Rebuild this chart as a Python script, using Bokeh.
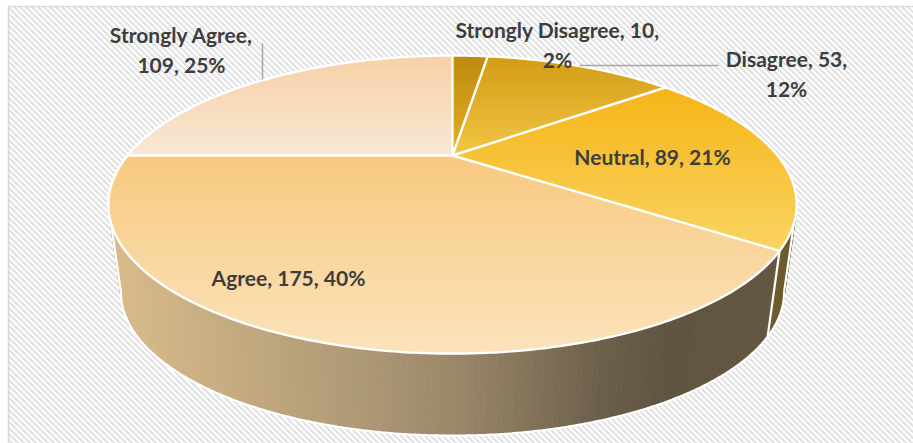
import numpy as np
from bokeh.plotting import figure
from bokeh.models import Range1d
from bokeh.embed import file_html
from bokeh.resources import INLINE
from bokeh.core.properties import value

# ---------------- data ----------------
categories = ["Strongly Disagree", "Disagree", "Neutral", "Agree", "Strongly Agree"]
counts = [10, 53, 89, 175, 109]
pct_labels = ["2%", "12%", "21%", "40%", "25%"]

# ---------------- layout / style ----------------
W, H = 913, 443
PX, PY = 452.0, 155.0          # apex of the pie (screen px)
A_X, B_Y, K = 325.0, 132.9, -0.329   # perspective projection of the unit disc
VX, VY, S_BOT = 452.0, 2600.0, 0.9635  # vanishing point / bottom-face scale

top_cols = [("#bd8a0e", "#e4b12a"), ("#d29d16", "#f2c544"), ("#f6b518", "#f9d462"),
            ("#f8c97f", "#fbe3bb"), ("#f6d1a6", "#fae8d6")]
neutral_side = "#6b5b2c"
side_stops = [(0.0, "#d8bb8a"), (0.35, "#b09a76"), (0.5, "#9b886a"),
              (0.72, "#6c5f4a"), (0.82, "#5f5441"), (1.0, "#645740")]

# label layout: (break after n parts: 0 = one line, x centre, y of first line)
label_layout = {
    "Strongly Disagree": (2, 557, 29),
    "Disagree": (2, 786, 58),
    "Neutral": (0, 652, 156),
    "Agree": (0, 288, 277),
    "Strongly Agree": (1, 181, 34),
}
LINE_GAP = 30


def hex2rgb(h):
    h = h.lstrip("#")
    return np.array([int(h[i:i + 2], 16) for i in (0, 2, 4)], dtype=float)


def rgb2hex(c):
    c = np.clip(np.round(c), 0, 255).astype(int)
    return "#%02x%02x%02x" % tuple(c)


def mix(c1, c2, t):
    return rgb2hex(hex2rgb(c1) * (1 - t) + hex2rgb(c2) * t)


def stop_color(t):
    for (t0, c0), (t1, c1) in zip(side_stops[:-1], side_stops[1:]):
        if t <= t1:
            return mix(c0, c1, (t - t0) / (t1 - t0) if t1 > t0 else 0)
    return side_stops[-1][1]


def proj(theta):
    theta = np.asarray(theta, dtype=float)
    u = np.sin(theta)
    v = -np.cos(theta)
    den = 1 + K * v
    return PX + A_X * u / den, PY + B_Y * v / den


def to_bottom(x, y):
    return VX + S_BOT * (np.asarray(x) - VX), VY + S_BOT * (np.asarray(y) - VY)


def clip_half(pts, yv, keep_ge):
    out = []
    n = len(pts)
    for i in range(n):
        cur = pts[i]
        prv = pts[i - 1]
        cin = cur[1] >= yv if keep_ge else cur[1] <= yv
        pin = prv[1] >= yv if keep_ge else prv[1] <= yv
        if cin:
            if not pin:
                t = (yv - prv[1]) / (cur[1] - prv[1])
                out.append((prv[0] + t * (cur[0] - prv[0]), yv))
            out.append(cur)
        elif pin:
            t = (yv - prv[1]) / (cur[1] - prv[1])
            out.append((prv[0] + t * (cur[0] - prv[0]), yv))
    return out


p = figure(width=W, height=H, x_range=Range1d(0, W), y_range=Range1d(H, 0),
           output_backend="svg", toolbar_location=None, min_border=0)
p.axis.visible = False
p.grid.visible = False
p.outline_line_color = None
p.background_fill_color = "white"
p.border_fill_color = "white"

# background frame with diagonal stripes
FL, FT, FR, FB = 8.0, 6.0, W + 2.0, H + 2.0
hx, hy = [], []
STEP = 6.0
c = FL - FB
while c < FR - FT:
    xa = max(FL, c + FT)
    xb = min(FR, c + FB)
    if xb > xa:
        hx.append([xa, xb])
        hy.append([xa - c, xb - c])
    c += STEP
p.multi_line(xs=hx, ys=hy, line_color="#e2e2e2", line_width=2.2)
p.multi_line(xs=[[FL, FL, FR]], ys=[[FB, FT, FT]], line_color="#d9d9d9", line_width=1.5)

total = float(sum(counts))
frac = np.array(counts) / total
cum = np.concatenate([[0.0], np.cumsum(frac)])
angles = cum * 2 * np.pi

# ---------- side of the cylinder ----------
dense = np.linspace(0, 2 * np.pi, 3601)
dx, dy = proj(dense)
th_r = dense[np.argmax(dx)]
th_l = dense[np.argmin(dx)]
xmin, xmax = dx.min(), dx.max()
th_na = angles[3]  # Neutral / Agree boundary

side_xs, side_ys, side_cols = [], [], []
ths = np.linspace(th_r, th_l, 200)
ths = np.sort(np.concatenate([ths, [th_na]]))
tx, ty = proj(ths)
bx, by = to_bottom(tx, ty)
for i in range(len(ths) - 1):
    xs = [tx[i], tx[i + 1], bx[i + 1], bx[i]]
    ys = [ty[i], ty[i + 1], by[i + 1], by[i]]
    mid = 0.5 * (ths[i] + ths[i + 1])
    idx = int(np.searchsorted(angles, mid) - 1)
    if categories[idx] == "Neutral":
        col = neutral_side
    else:
        col = stop_color((0.5 * (tx[i] + tx[i + 1]) - xmin) / (xmax - xmin))
    side_xs.append(xs)
    side_ys.append(ys)
    side_cols.append(col)
p.patches(xs=side_xs, ys=side_ys, fill_color=side_cols, line_color=side_cols, line_width=0.8)

# side outlines (white)
arc_t = np.linspace(th_r, th_l, 300)
ax_, ay_ = proj(arc_t)
abx, aby = to_bottom(ax_, ay_)
rx_t, ry_t = proj(th_r)
lx_t, ly_t = proj(th_l)
rbx, rby = to_bottom(rx_t, ry_t)
lbx, lby = to_bottom(lx_t, ly_t)
nx_t, ny_t = proj(th_na)
nbx, nby = to_bottom(nx_t, ny_t)
p.multi_line(xs=[list(abx), [lx_t, lbx], [rx_t, rbx], [nx_t, nbx]],
             ys=[list(aby), [ly_t, lby], [ry_t, rby], [ny_t, nby]],
             line_color="white", line_width=2.2)

# ---------- top face slices with vertical gradient ----------
pxs, pys, pcols = [], [], []
for i, cat in enumerate(categories):
    a0, a1 = angles[i], angles[i + 1]
    n = max(8, int(np.degrees(a1 - a0) * 2))
    th = np.linspace(a0, a1, n)
    sx, sy = proj(th)
    poly = [(PX, PY)] + list(zip(sx, sy))
    ys_all = [q[1] for q in poly]
    y0, y1 = min(ys_all), max(ys_all)
    nb = max(4, int((y1 - y0) / 3))
    edges = np.linspace(y0, y1, nb + 1)
    c_top, c_bot = top_cols[i]
    for j in range(nb):
        part = clip_half(poly, edges[j] - 0.3, True)
        if len(part) < 3:
            continue
        part = clip_half(part, edges[j + 1] + 0.3, False)
        if len(part) < 3:
            continue
        t = (j + 0.5) / nb
        col = mix(c_top, c_bot, t)
        pxs.append([q[0] for q in part])
        pys.append([q[1] for q in part])
        pcols.append(col)
p.patches(xs=pxs, ys=pys, fill_color=pcols, line_color=pcols, line_width=0.6)

# top outline and separators
full = np.linspace(0, 2 * np.pi, 721)
fx, fy = proj(full)
bxs, bys = proj(angles[:-1])
sep_x = [[PX, x] for x in bxs]
sep_y = [[PY, y] for y in bys]
p.multi_line(xs=sep_x + [list(fx)], ys=sep_y + [list(fy)], line_color="white", line_width=2.4)

# ---------- leader lines ----------
p.multi_line(xs=[[262, 262], [579, 718]], ys=[[43, 79], [65, 65]],
             line_color="#a6a6a6", line_width=1.5)

# ---------- labels ----------
lx, ly, lt = [], [], []
for cat, cnt, pct in zip(categories, counts, pct_labels):
    brk, x, y = label_layout[cat]
    parts = [cat, str(cnt), pct]
    if brk == 0:
        lx.append(x)
        ly.append(y)
        lt.append(", ".join(parts))
    else:
        lx += [x, x]
        ly += [y, y + LINE_GAP]
        lt += [", ".join(parts[:brk]) + ",", ", ".join(parts[brk:])]
p.text(x=lx, y=ly, text=lt, text_font=value("Lato"), text_font_style="bold",
       text_font_size="21px", text_color="#3d3d3d", text_align="center",
       text_baseline="middle")

open("out.html", "w").write(file_html(p, INLINE))
